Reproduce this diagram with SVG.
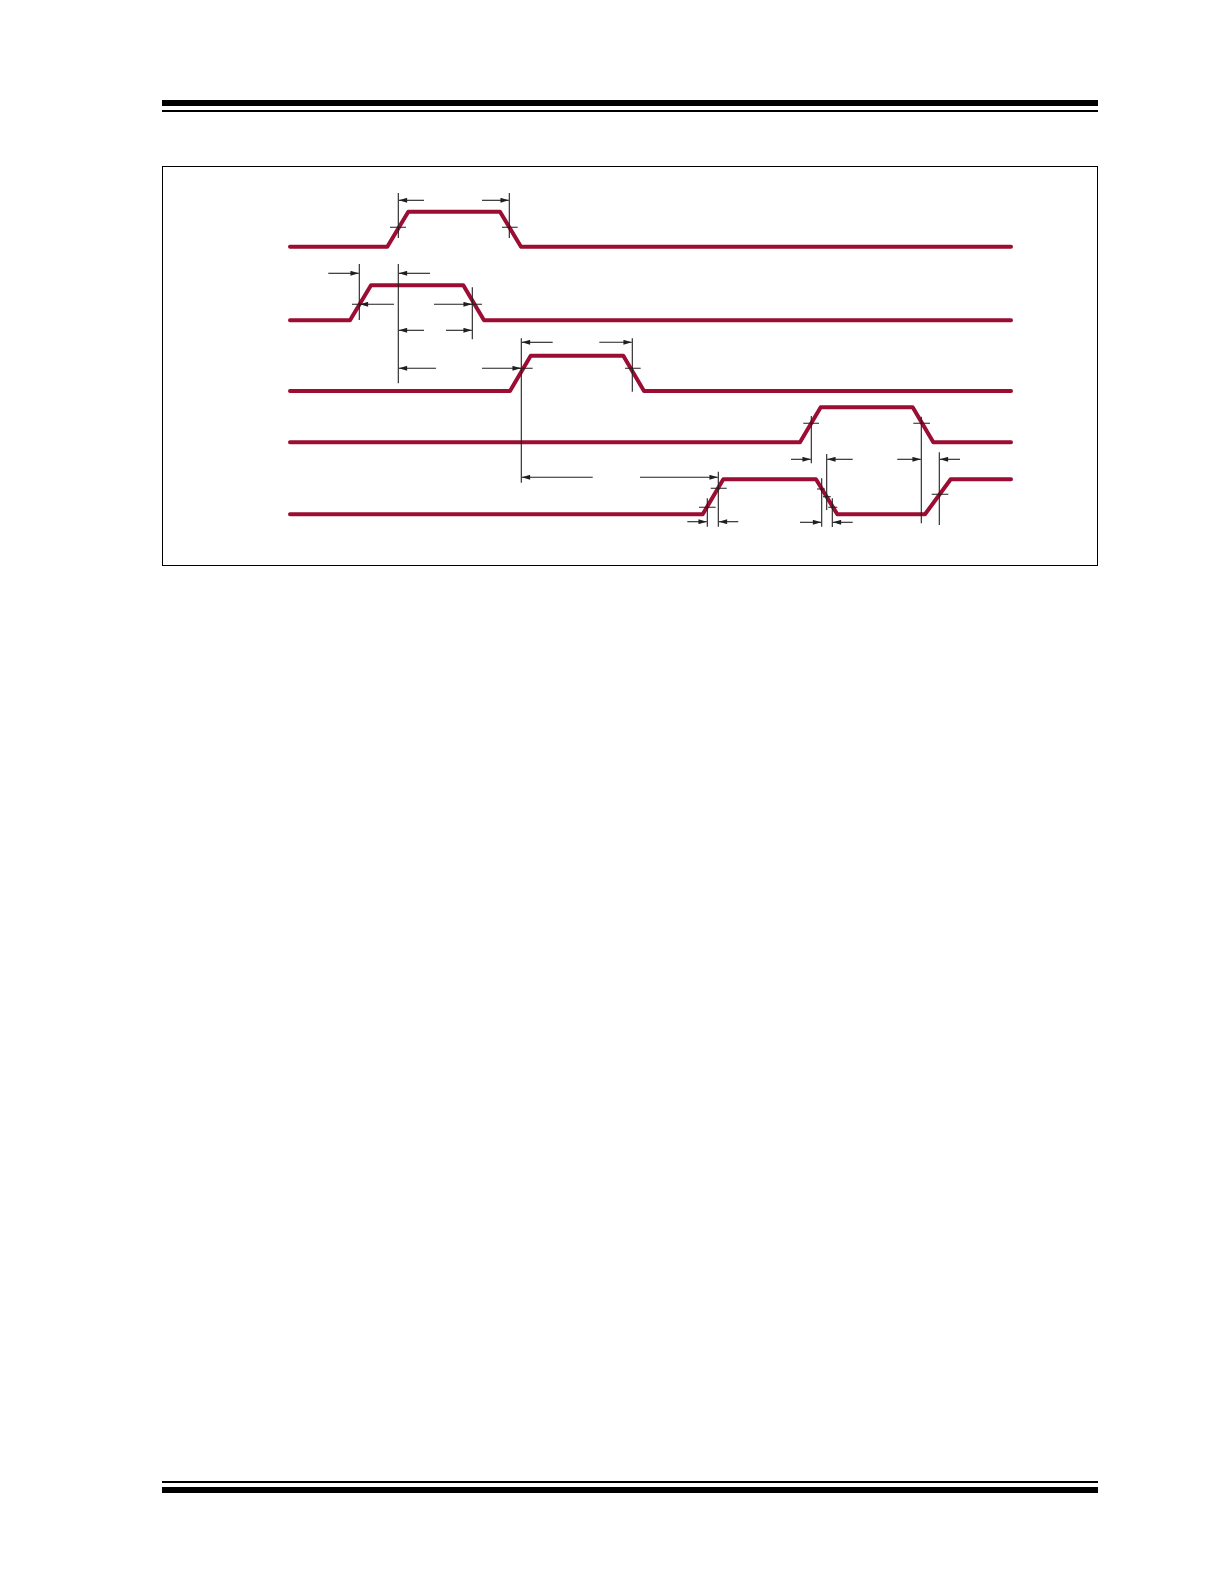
<svg xmlns="http://www.w3.org/2000/svg" width="1224" height="1584" viewBox="0 0 1224 1584">
<style>
.w{fill:none;stroke:#9B0D33;stroke-width:4;stroke-linejoin:round;stroke-linecap:round}
.t{fill:none;stroke:#231F20;stroke-width:1.1}
.a{fill:none;stroke:#231F20;stroke-width:1.1;marker-end:url(#ah)}
.rule{fill:#000}
</style>
<defs>
<marker id="ah" viewBox="0 0 10 6" refX="10" refY="3" markerWidth="10" markerHeight="5" markerUnits="userSpaceOnUse" orient="auto">
<path d="M0,0L10,3L0,6z" fill="#231F20"/>
</marker>
</defs>
<rect width="1224" height="1584" fill="#fff"/>
<g id="header">
<rect class="rule" x="162" y="100" width="936" height="6"/>
<rect class="rule" x="162" y="110" width="936" height="2"/>
</g>
<g id="footer">
<rect class="rule" x="162" y="1481" width="936" height="2"/>
<rect class="rule" x="162" y="1487" width="936" height="6"/>
</g>
<rect id="frame" x="162.5" y="166.5" width="935" height="399" fill="none" stroke="#000" stroke-width="1"/>
<g id="wave1"><path class="w" d="M290,246.7H387.3L408.3,211.7H500L521,246.7H1011"/></g>
<g id="wave2"><path class="w" d="M290,320.3H350L371,285.3H463.3L484,320.3H1011"/></g>
<g id="wave3"><path class="w" d="M290,391H510L530.7,355.7H623.3L644,391H1011"/></g>
<g id="wave4"><path class="w" d="M290,442.3H800L820.7,407.3H912.7L933.3,442.3H1011"/></g>
<g id="wave5"><path class="w" d="M290,514.3H702.7L723.3,479.3H816L837.3,514.3H925L950.7,479.3H1011"/></g>
<g id="connectors">
<!-- wave 1 -->
<path class="t" d="M398.3,193V238M390,227.3H406"/>
<path class="a" d="M424,200.3H398.8"/>
<path class="t" d="M509.3,193V238M502,227.3H517.7"/>
<path class="a" d="M482,200.3H508.8"/>
<!-- wave 2 -->
<path class="t" d="M359.3,264V320M352,304.3H367"/>
<path class="a" d="M328.3,273.3H358.8"/>
<path class="a" d="M394,304.3H359.8"/>
<path class="t" d="M398.3,264V383.3"/>
<path class="a" d="M430,273.3H398.8"/>
<path class="a" d="M424,330.3H398.8"/>
<path class="a" d="M436,368.3H398.8"/>
<path class="t" d="M472.3,287.3V339.3M465,304.3H482"/>
<path class="a" d="M434,304.3H471.8"/>
<path class="a" d="M446,330.3H471.8"/>
<!-- wave 3 -->
<path class="t" d="M521.3,338.3V482.7M514,368.3H532.7"/>
<path class="a" d="M552.7,342.3H521.8"/>
<path class="a" d="M482,368.3H520.8"/>
<path class="t" d="M632.3,338.3V391.7M625,368.3H640.7"/>
<path class="a" d="M599.3,342.3H631.8"/>
<path class="a" d="M592.7,477.3H521.8"/>
<!-- wave 4 -->
<path class="t" d="M811.3,416V463.3M803.3,423.3H819"/>
<path class="a" d="M791,459.3H810.8"/>
<path class="t" d="M921.3,416.7V523.3M913.3,423.3H930"/>
<path class="a" d="M897.3,459.3H920.8"/>
<path class="t" d="M826.7,454V510"/>
<path class="a" d="M852.7,459.3H827.2"/>
<path class="t" d="M939.3,452.3V525M931.7,494.3H948.3"/>
<path class="a" d="M960,459.3H939.8"/>
<!-- wave 5 -->
<path class="t" d="M718.3,471.7V526.7M710.7,488.3H726.7"/>
<path class="a" d="M640,477.3H717.8"/>
<path class="t" d="M707.3,498.3V526.7M699,507.3H715.7"/>
<path class="a" d="M687.3,521.7H706.8"/>
<path class="a" d="M738.3,521.7H718.8"/>
<path class="t" d="M821.7,478.3V526.7M817,489H825"/>
<path class="t" d="M823,496.7H830.7"/>
<path class="t" d="M832.3,498.3V527M828.3,507.3H837.3"/>
<path class="a" d="M800,522.3H821.2"/>
<path class="a" d="M852.7,522.3H832.8"/>
</g>
</svg>
